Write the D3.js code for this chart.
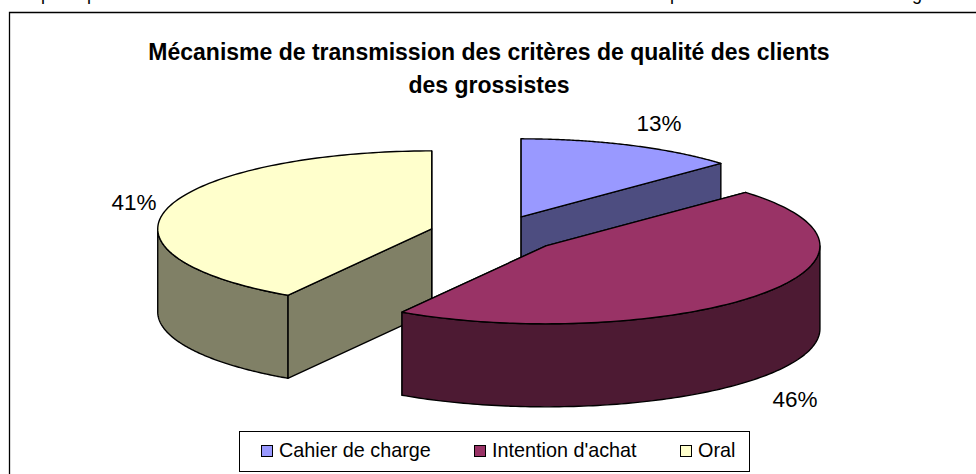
<!DOCTYPE html>
<html>
<head>
<meta charset="utf-8">
<style>
html,body{margin:0;padding:0;background:#fff;overflow:hidden}
svg{display:block}
text{font-family:"Liberation Sans",Arial,sans-serif;fill:#000}
</style>
<script src="https://cdn.jsdelivr.net/npm/d3@7/dist/d3.min.js"></script>
</head>
<body>
<svg id="c" width="976" height="474"></svg>
<script>
const categories = ["Cahier de charge", "Intention d'achat", "Oral"];
const values = [13, 45.8, 41.2];
const labels = ["13%", "46%", "41%"];
const topColors = ["#9999ff", "#993366", "#ffffcc"];
const sideColors = ["#4d4d80", "#4d1a33", "#808066"];
const titleLines = ["Mécanisme de transmission des critères de qualité des clients", "des grossistes"];
const clippedGlyphs = [["p", 46], ["p", 92], ["p", 675], ["g", 917]];

const svg = d3.select("#c");
const cx = 495, cy = 234, rx = 274, ry = 78, depth = 83, explode = 0.24;
const sx = d3.scaleLinear().domain([-1, 1]).range([cx - rx, cx + rx]);
const sy = d3.scaleLinear().domain([-1, 1]).range([cy - ry, cy + ry]);

// frame (open on the right and bottom: cropped)
svg.append("path").attr("d", "M9.5,474V12.5H976").attr("fill", "none").attr("stroke", "#000").attr("stroke-width", 1.3);

// cropped line of text above
svg.selectAll(".clip").data(clippedGlyphs).join("text").attr("class", "clip")
  .attr("x", d => d[1]).attr("y", 0).attr("text-anchor", "middle").attr("font-size", 18).text(d => d[0]);

svg.selectAll(".title").data(titleLines).join("text").attr("class", "title")
  .attr("x", 489).attr("y", (d, i) => 60 + i * 33).attr("text-anchor", "middle")
  .attr("font-size", 23).attr("font-weight", "bold").text(d => d);

const arcs = d3.pie().sort(null).startAngle(0).endAngle(2 * Math.PI)(values);
const line = d3.line();
const rim = (c, a, dz = 0) => [c.x + (sx(Math.sin(a)) - cx), c.y + (sy(-Math.cos(a)) - cy) + dz];
const span = (c, a0, a1, dz) => d3.range(0, 121).map(i => rim(c, a0 + (a1 - a0) * i / 120, dz));

const order = [0, 2, 1];
order.forEach(i => {
  const d = arcs[i];
  const mid = (d.startAngle + d.endAngle) / 2;
  const c = { x: sx(explode * Math.sin(mid)), y: sy(-explode * Math.cos(mid)) };
  const g = svg.append("g").attr("stroke", "#000").attr("stroke-width", 1.4).attr("stroke-linejoin", "round");
  [d.startAngle, d.endAngle].forEach(a => {
    const p = rim(c, a), q = rim(c, a, depth);
    g.append("path").attr("d", line([[c.x, c.y], p, q, [c.x, c.y + depth]]) + "Z").attr("fill", sideColors[i]);
  });
  const f0 = Math.max(d.startAngle, Math.PI / 2), f1 = Math.min(d.endAngle, 3 * Math.PI / 2);
  if (f1 > f0) {
    g.append("path").attr("d", line(span(c, f0, f1, 0).concat(span(c, f1, f0, depth))) + "Z").attr("fill", sideColors[i]);
  }
  g.append("path").attr("d", line([[c.x, c.y]].concat(span(c, d.startAngle, d.endAngle, 0))) + "Z").attr("fill", topColors[i]);
});

const labelPos = [[659, 131], [795, 407], [134, 210]];
svg.selectAll(".pct").data(labels).join("text").attr("class", "pct")
  .attr("x", (d, i) => labelPos[i][0]).attr("y", (d, i) => labelPos[i][1])
  .attr("text-anchor", "middle").attr("font-size", 22.5).text(d => d);

// legend
const lg = svg.append("g");
lg.append("rect").attr("x", 239.5).attr("y", 431.5).attr("width", 510).attr("height", 40)
  .attr("fill", "#fff").attr("stroke", "#000").attr("stroke-width", 1);
const legendX = [261.5, 474.5, 680.5];
categories.forEach((c, i) => {
  lg.append("rect").attr("x", legendX[i]).attr("y", 445.5).attr("width", 11).attr("height", 11)
    .attr("fill", topColors[i]).attr("stroke", "#000").attr("stroke-width", 1);
  lg.append("text").attr("x", legendX[i] + 17.5).attr("y", 457).attr("font-size", 19.8).text(c);
});
</script>
</body>
</html>
